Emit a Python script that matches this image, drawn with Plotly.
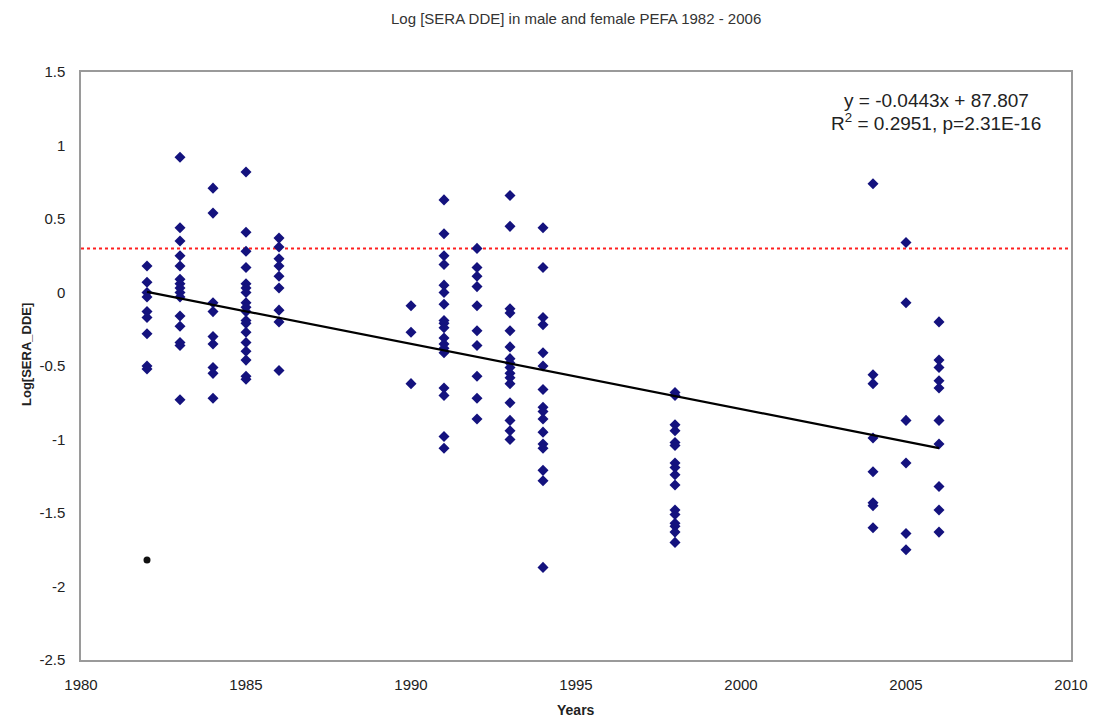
import plotly.graph_objects as go

# ---- data ----
years_1982 = [0.18, 0.07, 0.0, -0.03, -0.13, -0.17, -0.28, -0.50, -0.52]
years_1983 = [0.92, 0.44, 0.35, 0.25, 0.18, 0.09, 0.06, 0.03, 0.0, -0.03, -0.16, -0.23, -0.34, -0.36, -0.73]
years_1984 = [0.71, 0.54, -0.07, -0.13, -0.30, -0.35, -0.51, -0.55, -0.72]
years_1985 = [0.82, 0.41, 0.28, 0.17, 0.06, 0.03, 0.0, -0.07, -0.10, -0.13, -0.19, -0.21, -0.27, -0.34, -0.40, -0.46, -0.57, -0.59]
years_1986 = [0.37, 0.31, 0.23, 0.18, 0.11, 0.03, -0.12, -0.20, -0.53]
years_1990 = [-0.09, -0.27, -0.62]
years_1991 = [0.63, 0.40, 0.25, 0.19, 0.05, 0.0, -0.08, -0.19, -0.21, -0.24, -0.31, -0.35, -0.38, -0.41, -0.65, -0.70, -0.98, -1.06]
years_1992 = [0.30, 0.17, 0.11, 0.04, -0.09, -0.26, -0.36, -0.57, -0.72, -0.86]
years_1993 = [0.66, 0.45, -0.11, -0.14, -0.26, -0.37, -0.45, -0.48, -0.51, -0.55, -0.58, -0.62, -0.75, -0.87, -0.94, -1.0]
years_1994 = [0.44, 0.17, -0.17, -0.22, -0.41, -0.50, -0.66, -0.78, -0.81, -0.86, -0.95, -1.03, -1.06, -1.21, -1.28, -1.87]
years_1998 = [-0.68, -0.70, -0.90, -0.94, -1.02, -1.04, -1.16, -1.19, -1.24, -1.31, -1.48, -1.51, -1.57, -1.59, -1.63, -1.70]
years_2004 = [0.74, -0.56, -0.62, -0.99, -1.22, -1.43, -1.45, -1.60]
years_2005 = [0.34, -0.07, -0.87, -1.16, -1.64, -1.75]
years_2006 = [-0.20, -0.46, -0.51, -0.60, -0.65, -0.87, -1.03, -1.32, -1.48, -1.63]

groups = {
    1982: years_1982, 1983: years_1983, 1984: years_1984, 1985: years_1985,
    1986: years_1986, 1990: years_1990, 1991: years_1991, 1992: years_1992,
    1993: years_1993, 1994: years_1994, 1998: years_1998, 2004: years_2004,
    2005: years_2005, 2006: years_2006,
}

outlier_year = [1982]
outlier_value = [-1.82]

slope = -0.0443
intercept = 87.807
fit_years = [1982, 2006]
threshold = 0.3

x_ticks = [1980, 1985, 1990, 1995, 2000, 2005, 2010]
y_ticks = [1.5, 1, 0.5, 0, -0.5, -1, -1.5, -2, -2.5]
y_ticktext = ["1.5", "1", "0.5", "0", "-0.5", "-1", "-1.5", "-2", "-2.5"]

title_text = "Log [SERA DDE] in male and female PEFA 1982 - 2006"
eq_text = "y = -0.0443x + 87.807"
r2_text = "R<sup>2</sup> = 0.2951, p=2.31E-16"

xs, ys = [], []
for yr, vals in groups.items():
    xs += [yr] * len(vals)
    ys += vals

fit_vals = [slope * x + intercept for x in fit_years]

FONT = "Liberation Sans, Arial, sans-serif"

fig = go.Figure()
fig.add_trace(go.Scatter(
    x=[1980, 2010], y=[threshold, threshold], mode="lines",
    line=dict(color="#ff2020", width=2, dash="dot"), showlegend=False))
fig.add_trace(go.Scatter(
    x=xs, y=ys, mode="markers",
    marker=dict(symbol="diamond", size=8.5, color="#14127e"),
    showlegend=False))
fig.add_trace(go.Scatter(
    x=outlier_year, y=outlier_value, mode="markers",
    marker=dict(symbol="circle", size=7, color="#111111"),
    showlegend=False))
fig.add_trace(go.Scatter(
    x=fit_years, y=fit_vals, mode="lines",
    line=dict(color="black", width=2.2), showlegend=False))

fig.update_layout(
    width=1095, height=719,
    margin=dict(l=81, r=24, t=72, b=59, autoexpand=False),
    paper_bgcolor="white", plot_bgcolor="white",
    font=dict(family=FONT, color="#222222"),
    xaxis=dict(range=[1980, 2010], tickvals=x_ticks, showgrid=False, zeroline=False,
               showline=True, linecolor="#9a9a9a", linewidth=1.5, mirror=True,
               ticks="", ticklabelstandoff=10, automargin=False,
               tickfont=dict(size=15, color="#222222")),
    yaxis=dict(range=[-2.5, 1.5], tickvals=y_ticks, ticktext=y_ticktext,
               showgrid=False, zeroline=False,
               showline=True, linecolor="#9a9a9a", linewidth=1.5, mirror=True,
               ticks="", ticklabelstandoff=11, automargin=False,
               tickfont=dict(size=15, color="#222222")),
)

# chart title
fig.add_annotation(xref="paper", yref="paper", x=0.5, y=(660 - 18) / 588,
                   xanchor="center", yanchor="middle", showarrow=False,
                   text=title_text, font=dict(size=15, color="#333333"))
# axis titles
fig.add_annotation(xref="paper", yref="paper", x=0.5, y=(660 - 710) / 588,
                   xanchor="center", yanchor="middle", showarrow=False,
                   text="<b>Years</b>", font=dict(size=14, color="#222222"))
fig.add_annotation(xref="paper", yref="paper", x=(26 - 81) / 990, y=(660 - 355) / 588,
                   xanchor="center", yanchor="middle", showarrow=False, textangle=-90,
                   text="<b>Log[SERA_DDE]</b>", font=dict(size=13, color="#222222"))
# regression text
fig.add_annotation(xref="paper", yref="paper", x=(936 - 81) / 990, y=(660 - 100) / 588,
                   xanchor="center", yanchor="middle", showarrow=False,
                   text=eq_text, font=dict(size=19, color="#222222"))
fig.add_annotation(xref="paper", yref="paper", x=(936 - 81) / 990, y=(660 - 122) / 588,
                   xanchor="center", yanchor="middle", showarrow=False,
                   text=r2_text, font=dict(size=19, color="#222222"))

fig.write_html("out.html",
               config={"displayModeBar": False},
               post_script="document.body.style.margin='0px';document.body.style.overflow='hidden';")
